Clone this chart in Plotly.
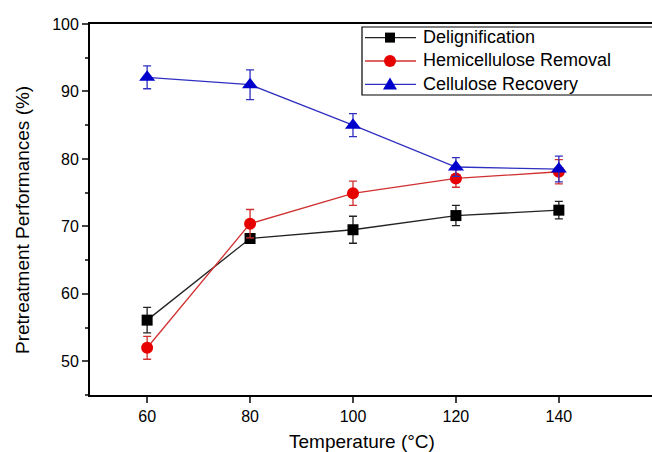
import plotly.graph_objects as go

temperature = [60, 80, 100, 120, 140]
delignification = [56.1, 68.2, 69.5, 71.6, 72.4]
delignification_err = [1.9, 0.5, 2.0, 1.5, 1.3]
hemicellulose_removal = [52.0, 70.4, 74.9, 77.1, 78.1]
hemicellulose_err = [1.7, 2.1, 1.8, 1.3, 1.8]
cellulose_recovery = [92.1, 91.0, 85.0, 78.8, 78.5]
cellulose_err = [1.7, 2.2, 1.7, 1.4, 1.9]

series_names = ["Delignification", "Hemicellulose Removal", "Cellulose Recovery"]
x_ticks = [60, 80, 100, 120, 140]
y_ticks = [50, 60, 70, 80, 90, 100]

FONT = "Liberation Sans, Arial, sans-serif"
W, H = 652, 452
ML, MR, MT, MB = 90, 0, 24, 57
PW, PH = W - ML - MR, H - MT - MB

def px(x):
    return (x - ML) / PW

def py(y):
    return (H - MB - y) / PH

styles = [
    dict(mcolor="#000000", lcolor="#222222", symbol="square", size=11),
    dict(mcolor="#e60000", lcolor="#d03030", symbol="circle", size=12),
    dict(mcolor="#0000cc", lcolor="#3030c0", symbol="triangle-up", size=14),
]
values = [delignification, hemicellulose_removal, cellulose_recovery]
errors = [delignification_err, hemicellulose_err, cellulose_err]

fig = go.Figure()
for name, y, err, st in zip(series_names, values, errors, styles):
    fig.add_trace(go.Scatter(
        x=temperature, y=y, name=name, mode="lines+markers", showlegend=False,
        line=dict(color=st["lcolor"], width=1.3),
        marker=dict(color=st["mcolor"], symbol=st["symbol"], size=st["size"], line=dict(width=0)),
        error_y=dict(type="data", array=err, visible=True, color=st["lcolor"],
                     thickness=1.3, width=4),
    ))

LEG_FONT = 18
LINE_GAP = LEG_FONT * 1.3
LEG_TOP, LEG_BOT = 27, 95
mid = (LEG_TOP + LEG_BOT) / 2
row_y = [mid - LINE_GAP, mid, mid + LINE_GAP]

shapes = []
annotations = []
shapes.append(dict(type="rect", xref="paper", yref="paper",
                   x0=px(362), x1=px(660), y0=py(LEG_BOT), y1=py(LEG_TOP),
                   line=dict(color="black", width=1.2), fillcolor="white", layer="above"))
for name, st, ry in zip(series_names, styles, row_y):
    shapes.append(dict(type="line", xref="paper", yref="paper",
                       x0=px(365), x1=px(416), y0=py(ry), y1=py(ry),
                       line=dict(color=st["lcolor"], width=1.3), layer="above"))
    cx = 390
    if st["symbol"] == "square":
        s = 5
        shapes.append(dict(type="rect", xref="paper", yref="paper",
                           x0=px(cx - s), x1=px(cx + s), y0=py(ry + s), y1=py(ry - s),
                           fillcolor=st["mcolor"], line=dict(width=0), layer="above"))
    elif st["symbol"] == "circle":
        r = 6
        shapes.append(dict(type="circle", xref="paper", yref="paper",
                           x0=px(cx - r), x1=px(cx + r), y0=py(ry + r), y1=py(ry - r),
                           fillcolor=st["mcolor"], line=dict(width=0), layer="above"))
    else:
        path = "M {:.5f},{:.5f} L {:.5f},{:.5f} L {:.5f},{:.5f} Z".format(
            px(cx - 7), py(ry + 5), px(cx + 7), py(ry + 5), px(cx), py(ry - 7))
        shapes.append(dict(type="path", xref="paper", yref="paper", path=path,
                           fillcolor=st["mcolor"], line=dict(width=0), layer="above"))

annotations.append(dict(text="<br>".join(series_names), xref="paper", yref="paper",
                        x=px(422), y=py(mid), xanchor="left", yanchor="middle",
                        align="left", showarrow=False, borderpad=0,
                        font=dict(size=LEG_FONT, family=FONT, color="black")))
annotations.append(dict(text="Temperature (°C)", xref="paper", yref="paper",
                        x=px(362), y=py(441), xanchor="center", yanchor="middle",
                        showarrow=False, font=dict(size=19, family=FONT, color="black")))
annotations.append(dict(text="Pretreatment Performances (%)", xref="paper", yref="paper",
                        x=px(22), y=py(220), xanchor="center", yanchor="middle",
                        textangle=-90, showarrow=False,
                        font=dict(size=19, family=FONT, color="black")))

fig.update_layout(
    width=W, height=H,
    margin=dict(l=ML, r=MR, t=MT, b=MB),
    paper_bgcolor="white", plot_bgcolor="white",
    font=dict(family=FONT, color="black", size=16),
    showlegend=False,
    shapes=shapes, annotations=annotations,
    xaxis=dict(range=[48.9, 158.1], tickvals=x_ticks, ticks="outside",
               ticklen=6, tickwidth=1.5, showline=True, linecolor="black",
               linewidth=1.8, mirror=True, showgrid=False, zeroline=False,
               tickfont=dict(size=16)),
    yaxis=dict(range=[45, 100], tickvals=y_ticks, ticks="outside",
               ticklen=6, tickwidth=1.5, showline=True, linecolor="black",
               linewidth=1.8, mirror=False, showgrid=False, zeroline=False,
               tickfont=dict(size=16),
               minor=dict(dtick=5, ticks="outside", ticklen=3, tickwidth=1.5, showgrid=False)),
)

fig.write_html("out.html")
